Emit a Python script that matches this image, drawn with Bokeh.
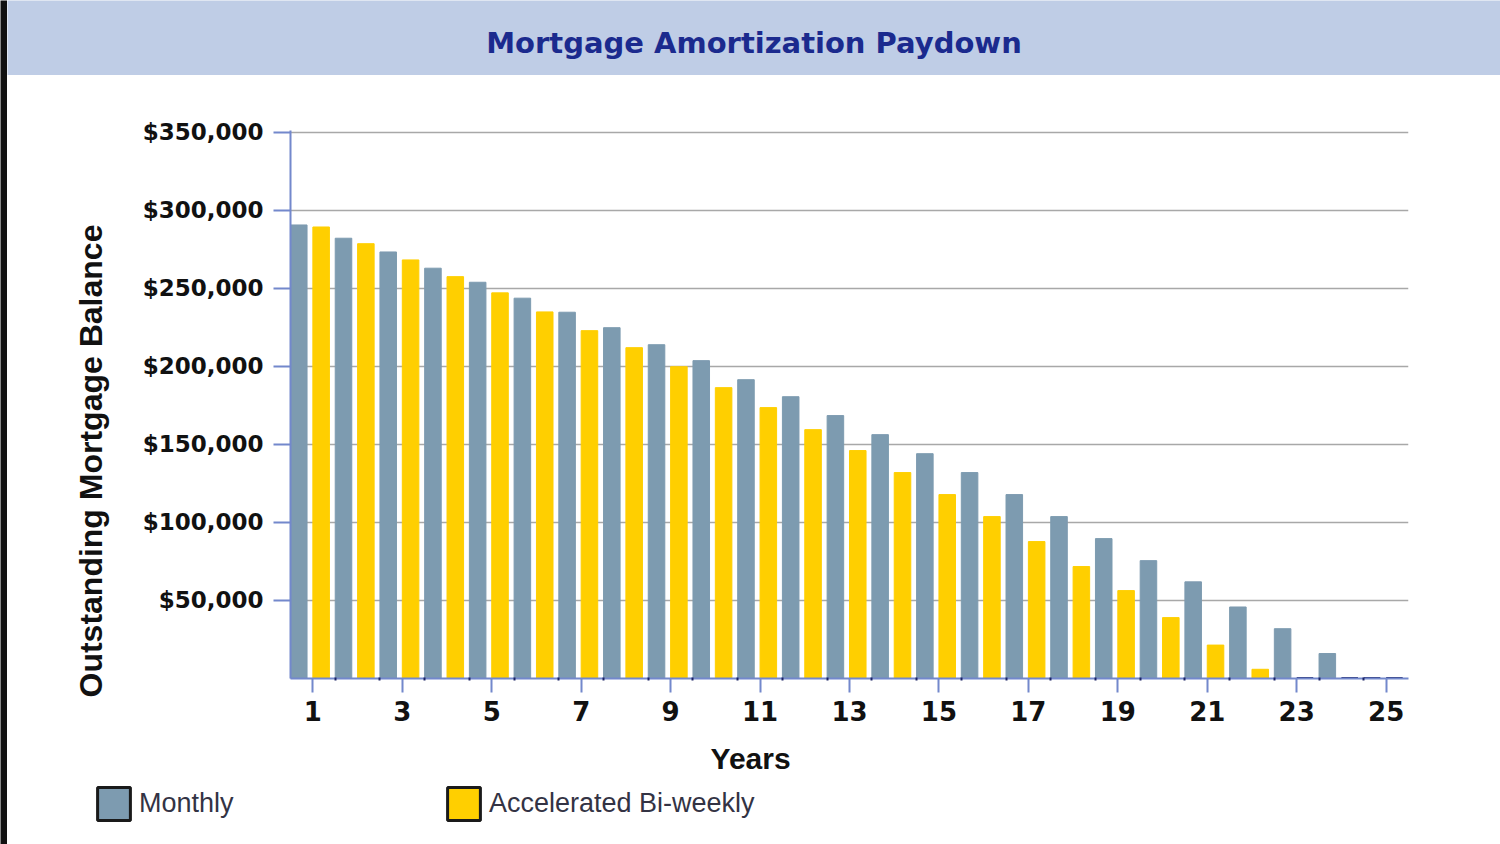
from bokeh.plotting import figure
from bokeh.layouts import column, row
from bokeh.models import (ColumnDataSource, Range1d, FixedTicker, NumeralTickFormatter,
                          Label, Legend, LegendItem, Title)
from bokeh.transform import dodge
from bokeh.embed import file_html
from bokeh.resources import INLINE

# ---------------- data ----------------
years = list(range(1, 26))
monthly = [290500, 282000, 273200, 262800, 253800, 243600, 234600, 224700, 213800, 203600,
           191400, 180500, 168400, 156200, 144000, 131900, 117800, 103700, 89600, 75500,
           61900, 45800, 31900, 16000, 0]
biweekly = [289200, 278500, 268100, 257400, 247000, 234800, 222800, 211900, 199700, 186300,
            173500, 159400, 146000, 131900, 117800, 103700, 87700, 71700, 56300, 39000,
            21400, 5900, 0, 0, 0]
series_names = ["Monthly", "Accelerated Bi-weekly"]
x_ticks = [1, 3, 5, 7, 9, 11, 13, 15, 17, 19, 21, 23, 25]
y_ticks = [50000, 100000, 150000, 200000, 250000, 300000, 350000]
title_text = "Mortgage Amortization Paydown"
x_title = "Years"
y_title = "Outstanding Mortgage Balance"

# ---------------- styles ----------------
C_MONTH = "#7D9BB0"
C_BIWK = "#FFCF00"
C_ZERO = "#1C2466"
C_AXIS = "#7388CC"
BAND = "#BFCDE6"
W = 1493      # content width (a 7px dark strip sits on the left)


def bare(fig):
    fig.outline_line_color = None
    fig.grid.visible = False
    return fig


src = ColumnDataSource(dict(
    year=years, monthly=monthly, biweekly=biweekly,
    m_line=[C_ZERO if v == 0 else C_MONTH for v in monthly],
    m_lw=[3 if v == 0 else 1 for v in monthly],
    b_line=[C_ZERO if v == 0 else C_BIWK for v in biweekly],
    b_lw=[3 if v == 0 else 1 for v in biweekly],
))

# ---------------- left dark strip ----------------
strip = bare(figure(width=7, height=844, x_range=(0, 1), y_range=(0, 1),
                    toolbar_location=None, output_backend="svg",
                    x_axis_location=None, y_axis_location=None,
                    min_border=0, border_fill_color="#111111",
                    background_fill_color="#111111"))

# ---------------- title band ----------------
band = bare(figure(width=W, height=75, x_range=(0, 1), y_range=(0, 1),
                   toolbar_location=None, output_backend="svg",
                   x_axis_location=None, y_axis_location=None,
                   min_border=0, border_fill_color=BAND, background_fill_color=BAND))
band.add_layout(Label(x=0.5, y=0.43, text=title_text, text_align="center",
                      text_baseline="middle", text_font="DejaVu Sans",
                      text_font_style="bold", text_font_size="29px",
                      text_color="#1B2A8E"))

# ---------------- main chart ----------------
p = figure(width=W, height=659, x_range=Range1d(0.5, 25.5), y_range=Range1d(0, 351000),
           toolbar_location=None, output_backend="svg",
           min_border_left=283, min_border_right=92, min_border_top=55, min_border_bottom=56,
           background_fill_color="white", border_fill_color="white")
p.title.visible = False
p.outline_line_color = None

p.vbar(x=dodge("year", -0.315, range=p.x_range), top="monthly", width=0.37, source=src,
       fill_color=C_MONTH, line_color="m_line", line_width="m_lw")
p.vbar(x=dodge("year", 0.185, range=p.x_range), top="biweekly", width=0.37, source=src,
       fill_color=C_BIWK, line_color="b_line", line_width="b_lw")

p.xaxis.ticker = FixedTicker(ticks=x_ticks, minor_ticks=[y + 0.5 for y in years[:-1]])
p.yaxis.ticker = FixedTicker(ticks=y_ticks)
p.yaxis.formatter = NumeralTickFormatter(format="$0,0")
for ax in (p.xaxis, p.yaxis):
    ax.axis_line_color = C_AXIS
    ax.axis_line_width = 2
    ax.major_tick_line_color = C_AXIS
    ax.major_tick_line_width = 2
    ax.major_tick_in = 0
    ax.major_label_text_font = "DejaVu Sans"
    ax.major_label_text_font_style = "bold"
    ax.major_label_text_color = "#111111"
p.yaxis.major_tick_out = 17
p.yaxis.major_label_standoff = 10
p.yaxis.major_label_text_font_size = "23px"
p.yaxis.minor_tick_line_color = None
p.xaxis.major_tick_out = 14
p.xaxis.major_label_standoff = 8
p.xaxis.major_label_text_font_size = "26px"
p.xaxis.minor_tick_line_color = C_ZERO
p.xaxis.minor_tick_line_width = 2
p.xaxis.minor_tick_in = 1
p.xaxis.minor_tick_out = 2

p.xgrid.visible = False
p.ygrid.grid_line_color = "#A8A8A8"
p.ygrid.grid_line_width = 1.5

p.add_layout(Title(text=y_title, align="left", offset=-19, vertical_align="middle",
                   standoff=60, text_font="Liberation Sans", text_font_style="bold",
                   text_font_size="32px", text_color="#111111"), "left")

# ---------------- x title + legend strip ----------------
leg = bare(figure(width=W, height=110, x_range=(0, 1), y_range=(0, 1),
                  toolbar_location=None, output_backend="svg",
                  x_axis_location=None, y_axis_location=None,
                  min_border=0, border_fill_color="white", background_fill_color="white"))
leg.add_layout(Label(x=0.4977, y=0.782, text=x_title, text_align="center",
                     text_baseline="middle", text_font="Liberation Sans",
                     text_font_style="bold", text_font_size="30px", text_color="#111111"))

# hidden copies of the series, only used to draw the legend swatches
r_m = leg.vbar(x="year", top="monthly", width=0.37, source=src, fill_color=C_MONTH,
               line_color="#1A1A1A", line_width=3, visible=False)
r_b = leg.vbar(x="year", top="biweekly", width=0.37, source=src, fill_color=C_BIWK,
               line_color="#1A1A1A", line_width=3, visible=False)
legend = Legend(items=[LegendItem(label=series_names[0], renderers=[r_m]),
                       LegendItem(label=series_names[1], renderers=[r_b])],
                orientation="horizontal", location=(86, 20),
                glyph_width=41, glyph_height=41, label_standoff=5, label_width=300,
                spacing=4, padding=0, margin=0, inactive_fill_alpha=0,
                border_line_color=None, background_fill_alpha=0,
                label_text_font="Liberation Sans", label_text_font_size="27px",
                label_text_color="#333344")
leg.add_layout(legend, "center")

content = column(row(band, spacing=0), p, row(leg, spacing=0), spacing=0)
layout = row(strip, content, spacing=0)
open("out.html", "w").write(file_html(layout, INLINE))
